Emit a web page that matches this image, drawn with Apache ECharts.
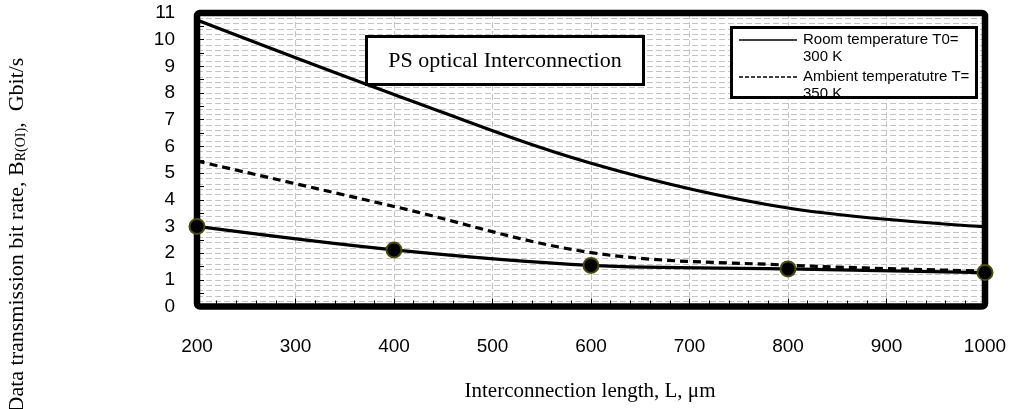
<!DOCTYPE html>
<html>
<head>
<meta charset="utf-8">
<script src="https://cdn.jsdelivr.net/npm/echarts@6/dist/echarts.min.js"></script>
<style>
  html, body { margin: 0; padding: 0; background: #fff; }
  #chart { width: 1013px; height: 409px; }
</style>
</head>
<body>
<div id="chart"></div>
<script>
// Interconnection lengths, µm
const lengths = [200, 400, 600, 800, 1000];
// Bit rate at room temperature T0 = 300 K, Gbit/s
const roomTemp = [10.74, 7.95, 5.37, 3.69, 2.99];
// Bit rate at ambient temperature T = 350 K, Gbit/s
const ambientTemp = [5.45, 3.75, 2.02, 1.55, 1.33];
// Bit rate of the PS optical interconnection (marked points), Gbit/s
const psRate = [3.0, 2.12, 1.54, 1.41, 1.27];

const xTicks = [200, 300, 400, 500, 600, 700, 800, 900, 1000];
const yTicks = [0, 1, 2, 3, 4, 5, 6, 7, 8, 9, 10, 11];

const legendLabels = ['Room temperature T0=\n300 K', 'Ambient temperatutre T=\n350 K'];

const pairs = (xs, ys) => xs.map((x, i) => [x, ys[i]]);

// plot frame (pixels)
const W = 1013, H = 409;
const G = { left: 197, right: 28, top: 13, bottom: 102.5 };

const serif = '"Liberation Serif", "Times New Roman", serif';
const sans = '"Liberation Sans", Arial, sans-serif';

const chart = echarts.init(document.getElementById('chart'), null, { renderer: 'canvas' });

const gridDash = { color: '#c4c4c4', width: 1, type: [6, 3] };
const yMin = yTicks[0], yMax = yTicks[yTicks.length - 1];

chart.setOption({
  animation: false,
  backgroundColor: '#fff',
  grid: { left: G.left, right: G.right, top: G.top, bottom: G.bottom, show: false },
  xAxis: {
    type: 'value',
    min: xTicks[0], max: xTicks[xTicks.length - 1], interval: 100,
    axisLine: { show: false },
    axisTick: { show: true, inside: true, length: 8, lineStyle: { color: '#000', width: 1 } },
    minorTick: { show: true, splitNumber: 5, length: 6, lineStyle: { color: '#000', width: 1 } },
    axisLabel: { margin: 31, color: '#000', fontSize: 19, fontFamily: sans, formatter: v => String(v) },
    splitLine: { show: true, lineStyle: gridDash }
  },
  yAxis: [
    {
      type: 'value',
      min: yMin, max: yMax, interval: 1,
      axisLine: { show: false },
      axisTick: { show: false },
      minorTick: { show: false, splitNumber: 5 },
      axisLabel: { margin: 22, color: '#000', fontSize: 19, fontFamily: sans },
      splitLine: { show: true, lineStyle: gridDash },
      minorSplitLine: { show: true, lineStyle: gridDash }
    },
    {
      // half-unit tick marks along the left frame
      type: 'value', position: 'left',
      min: yMin, max: yMax, interval: 0.5,
      axisLine: { show: false },
      axisTick: { show: true, inside: true, length: 7, lineStyle: { color: '#000', width: 1 } },
      axisLabel: { show: false },
      splitLine: { show: false }
    }
  ],
  series: [
    {
      name: 'Room temperature T0= 300 K',
      type: 'line',
      data: pairs(lengths, roomTemp),
      smooth: 0.35,
      showSymbol: false,
      lineStyle: { color: '#000', width: 3.2 },
      z: 3
    },
    {
      name: 'Ambient temperatutre T= 350 K',
      type: 'line',
      data: pairs(lengths, ambientTemp),
      smooth: 0.35,
      showSymbol: false,
      lineStyle: { color: '#000', width: 3.2, type: [8, 5] },
      z: 3
    },
    {
      name: 'PS optical Interconnection',
      type: 'line',
      data: pairs(lengths, psRate),
      smooth: 0.35,
      symbol: 'circle',
      symbolSize: 15,
      itemStyle: { color: '#000', borderColor: '#4a4a10', borderWidth: 2 },
      lineStyle: { color: '#000', width: 3.2 },
      z: 4
    }
  ],
  graphic: [
    // heavy frame round the plot area
    { type: 'rect', z: 2,
      shape: { x: G.left, y: G.top, width: W - G.left - G.right, height: H - G.top - G.bottom, r: 3 },
      style: { fill: null, stroke: '#000', lineWidth: 6.5 } },
    // title box inside the plot
    { type: 'rect', z: 100,
      shape: { x: 366.5, y: 36.5, width: 277, height: 48 },
      style: { fill: '#fff', stroke: '#000', lineWidth: 3 } },
    { type: 'text', z: 101, x: 505, y: 61,
      style: { text: 'PS optical Interconnection', fill: '#000',
               font: '22px ' + serif, align: 'center', verticalAlign: 'middle' } },
    // legend box: white panel, entries, then the outline on top
    { type: 'rect', z: 100,
      shape: { x: 731.5, y: 27.5, width: 245, height: 70 },
      style: { fill: '#fff', stroke: null } },
    { type: 'line', z: 101, shape: { x1: 739, y1: 40, x2: 797, y2: 40 },
      style: { stroke: '#000', lineWidth: 1.5 } },
    { type: 'text', z: 101, x: 803, y: 31,
      style: { text: legendLabels[0], fill: '#000', lineHeight: 17,
               font: '15px ' + sans, align: 'left', verticalAlign: 'top' } },
    { type: 'line', z: 101, shape: { x1: 739, y1: 77, x2: 797, y2: 77 },
      style: { stroke: '#000', lineWidth: 1.5, lineDash: [4, 2] } },
    { type: 'text', z: 101, x: 803, y: 68,
      style: { text: legendLabels[1], fill: '#000', lineHeight: 17,
               font: '15px ' + sans, align: 'left', verticalAlign: 'top' } },
    { type: 'rect', z: 102,
      shape: { x: 731.5, y: 27.5, width: 245, height: 70 },
      style: { fill: null, stroke: '#000', lineWidth: 3 } },
    // axis titles
    { type: 'text', z: 100, x: 590, y: 391,
      style: { text: 'Interconnection length, L, μm', fill: '#000',
               font: '21px ' + serif, align: 'center', verticalAlign: 'middle' } },
    { type: 'text', z: 100, x: 17, y: 235, rotation: Math.PI / 2,
      style: {
        text: '{a|Data transmission bit rate, B}{s|R(OI)}{a|,  Gbit/s}',
        align: 'center', verticalAlign: 'middle',
        rich: {
          a: { fontSize: 22, fontFamily: serif, fill: '#000', color: '#000' },
          s: { fontSize: 14, fontFamily: serif, fill: '#000', color: '#000', padding: [8, 0, 0, 0] }
        }
      } }
  ]
});
</script>
</body>
</html>
